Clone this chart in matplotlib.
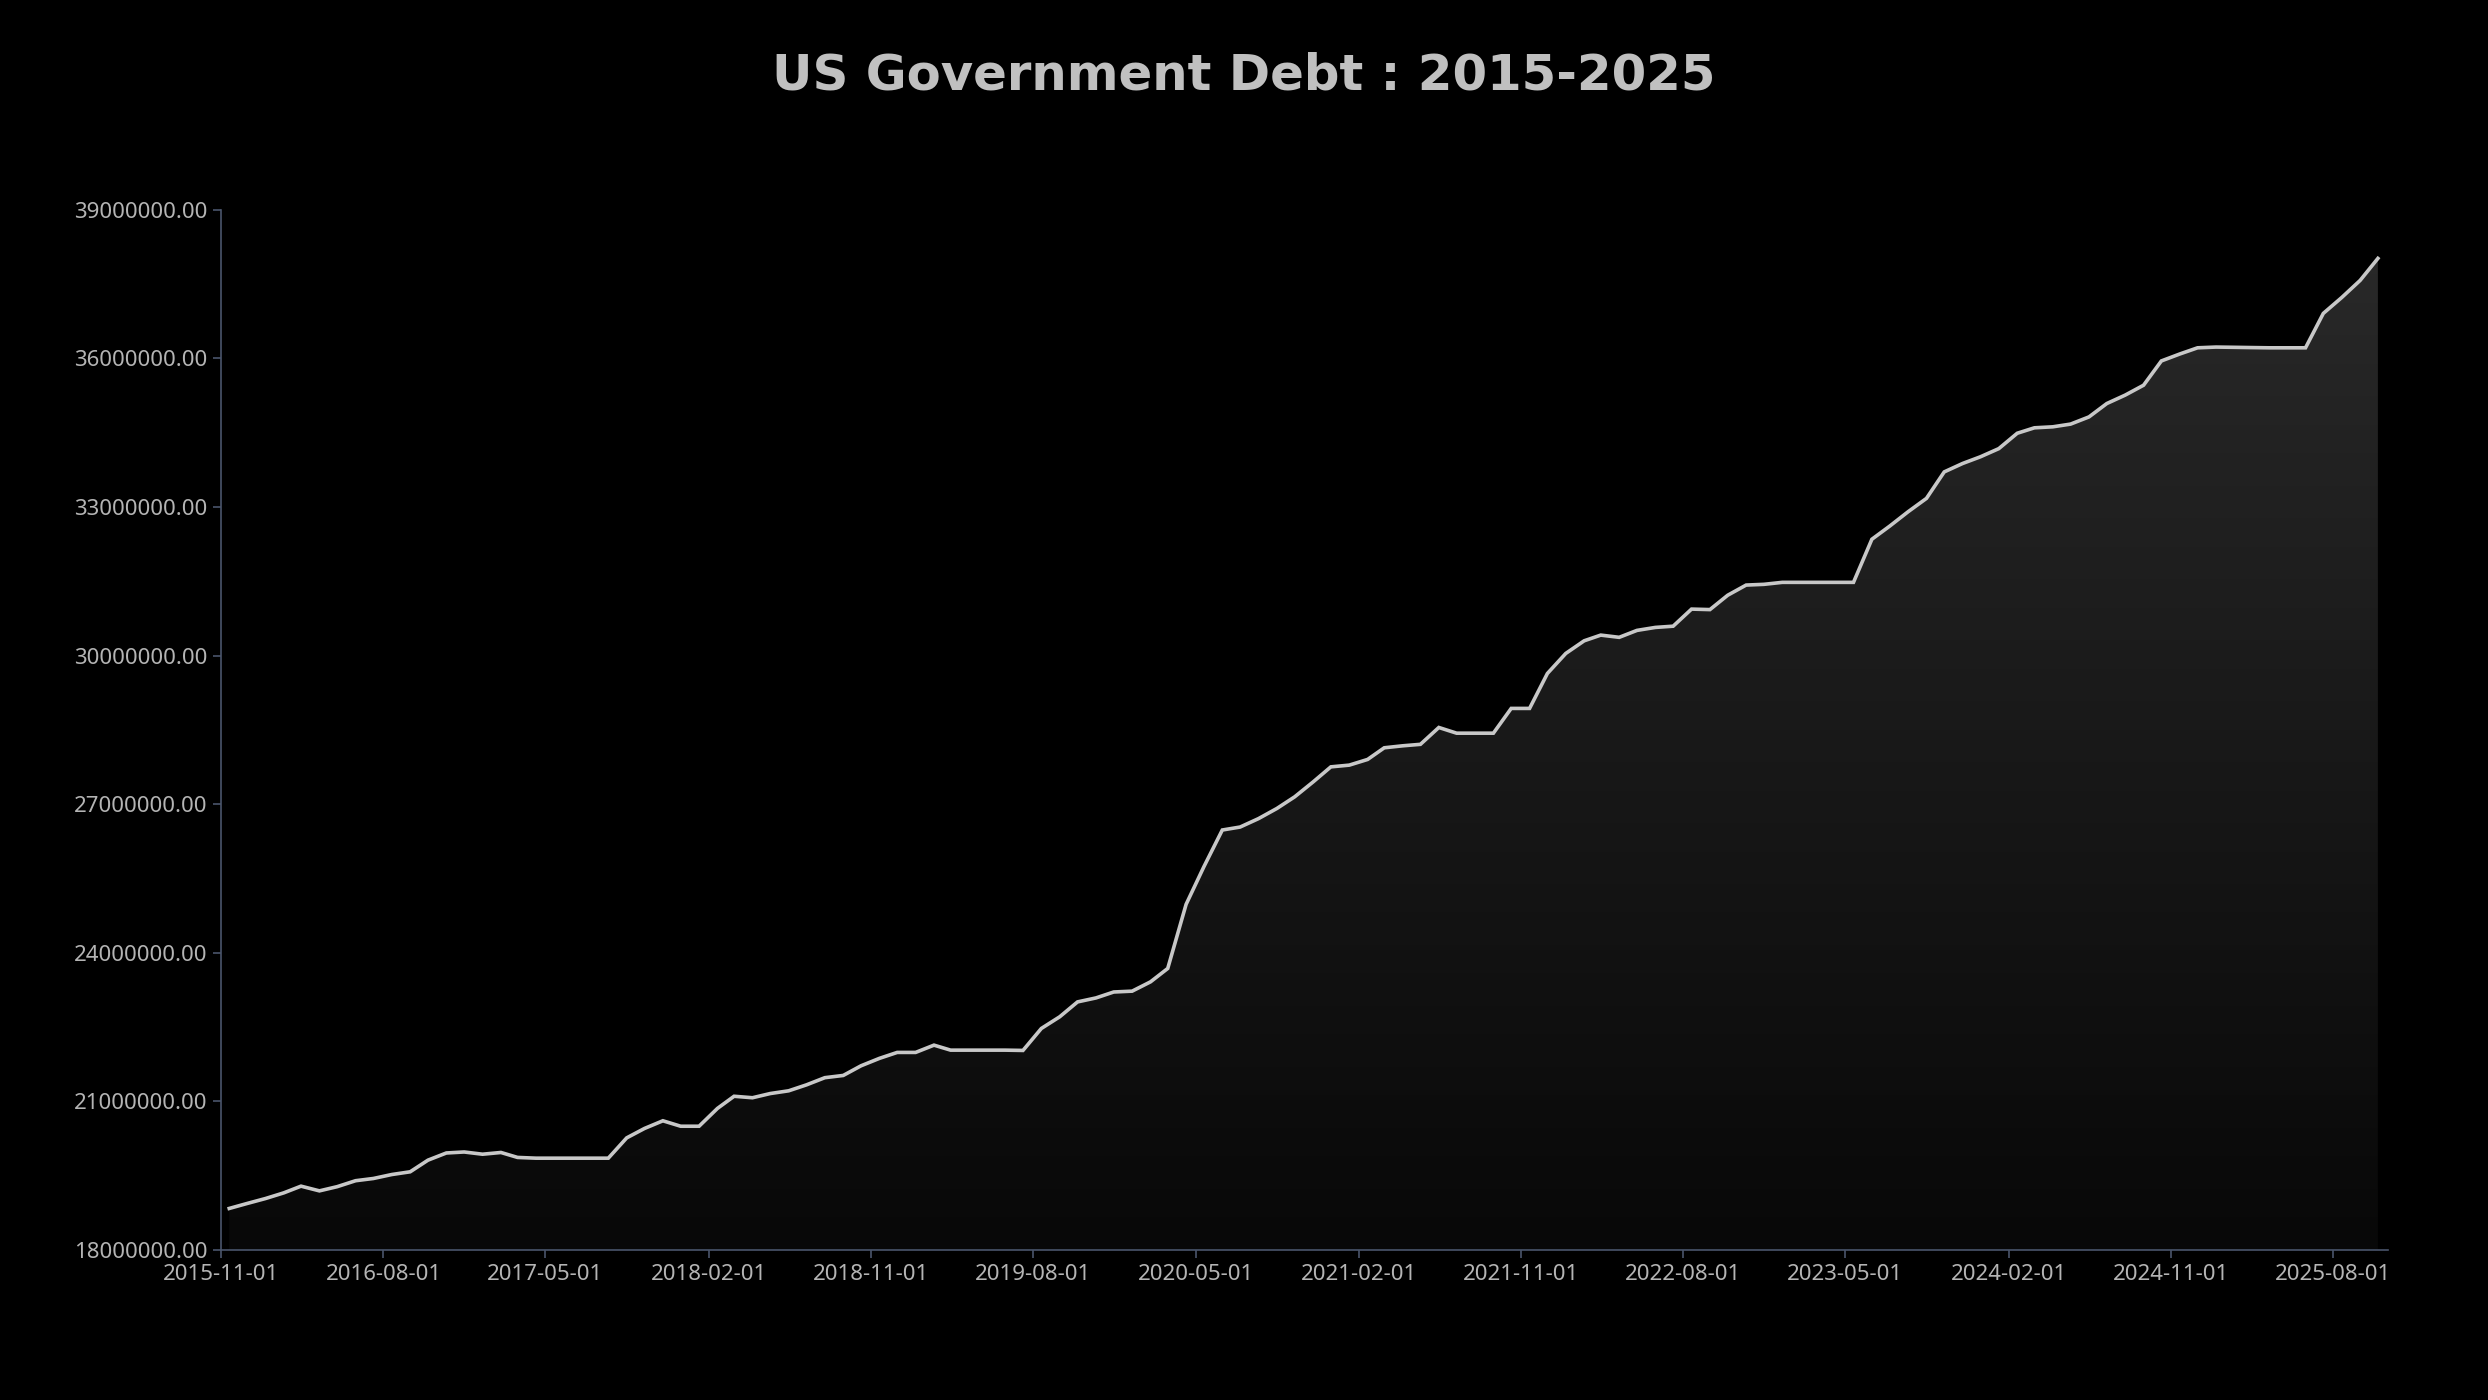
import numpy as np
import pandas as pd
import matplotlib
matplotlib.use("Agg")
import matplotlib.pyplot as plt
import matplotlib.dates as mdates
from matplotlib.colors import LinearSegmentedColormap
from matplotlib.ticker import FuncFormatter

# -------------------------------------
# data: total public debt, millions USD (mid-month readings)
# -------------------------------------
START_MONTH = "2015-11-01"
END_MONTH = "2025-10-01"

debt_millions = [
    18.84, 18.94, 19.04, 19.155, 19.29, 19.195, 19.28, 19.40, 19.445, 19.525,
    19.58, 19.815, 19.96, 19.98, 19.935, 19.97, 19.87, 19.855, 19.855, 19.855,
    19.855, 19.855, 20.265, 20.455, 20.61, 20.50, 20.50, 20.86, 21.105, 21.075,
    21.16, 21.215, 21.335, 21.48, 21.525, 21.72, 21.87, 21.99, 21.99, 22.137,
    22.036, 22.036, 22.036, 22.036, 22.03, 22.474, 22.71, 23.01, 23.09, 23.21,
    23.227, 23.415, 23.685, 24.98, 25.74, 26.48, 26.54, 26.71, 26.915, 27.15,
    27.45, 27.755, 27.79, 27.905, 28.14, 28.18, 28.21, 28.55, 28.435, 28.435,
    28.435, 28.935, 28.935, 29.64, 30.045, 30.30, 30.415, 30.37, 30.51, 30.57,
    30.595, 30.94, 30.93, 31.22, 31.425, 31.44, 31.48, 31.48, 31.48, 31.48,
    31.48, 32.35, 32.615, 32.905, 33.175, 33.71, 33.88, 34.015, 34.18, 34.49,
    34.60, 34.62, 34.675, 34.82, 35.09, 35.26, 35.46, 35.95, 36.09, 36.215,
    36.23, 36.225, 36.22, 36.215, 36.215, 36.215, 36.91, 37.23, 37.575, 38.02,
]

tick_dates = pd.date_range("2015-11-01", "2025-08-01", freq="9MS")
y_ticks = [18, 21, 24, 27, 30, 33, 36, 39]

dates = pd.date_range(START_MONTH, END_MONTH, freq="MS") + pd.Timedelta(days=14)
debt = np.array(debt_millions) * 1_000_000

# -------------------------------------
# style
# -------------------------------------
BG = "#000000"
LINE = "#c8c8c8"
AXIS = "#4a556c"
TEXT = "#b4b4b4"
TITLE = "#c0c0c0"

plt.rcParams["font.family"] = ["Noto Sans", "DejaVu Sans"]

fig = plt.figure(figsize=(24.88, 14), dpi=100, facecolor=BG)
ax = fig.add_axes([0.0888, 0.1071, 0.8710, 0.7430], facecolor=BG)

ymin, ymax = 18_000_000, 39_000_000
xmin, xmax = pd.Timestamp("2015-11-01"), pd.Timestamp("2025-11-01")
ax.set_xlim(xmin, xmax)
ax.set_ylim(ymin, ymax)

# gradient area under the line
cmap = LinearSegmentedColormap.from_list("fill", ["#080808", "#2a2a2a"])
grad = np.linspace(0, 1, 256).reshape(-1, 1)
x0, x1 = mdates.date2num(xmin), mdates.date2num(xmax)
img = ax.imshow(grad, cmap=cmap, origin="lower", aspect="auto",
                extent=[x0, x1, ymin, ymax], zorder=1)
area = ax.fill_between(dates, debt, ymin, facecolor="none", edgecolor="none")
clip = area.get_paths()[0]
img.set_clip_path(clip, transform=ax.transData)

ax.plot(dates, debt, color=LINE, lw=2.6, zorder=3, solid_joinstyle="miter")

# axes
for side in ["top", "right"]:
    ax.spines[side].set_visible(False)
for side in ["left", "bottom"]:
    ax.spines[side].set_color(AXIS)
    ax.spines[side].set_linewidth(1.2)

ax.set_xticks(tick_dates)
ax.xaxis.set_major_formatter(mdates.DateFormatter("%Y-%m-%d"))
ax.set_yticks([v * 1_000_000 for v in y_ticks])
ax.yaxis.set_major_formatter(FuncFormatter(lambda v, p: f"{v:.2f}"))
ax.tick_params(axis="both", colors=AXIS, labelcolor=TEXT, labelsize=16,
               length=6, width=1.2)
ax.tick_params(axis="y", pad=3.5)
ax.tick_params(axis="x", pad=4)

fig.text(0.5, 1 - 90 / 1400, "US Government Debt : 2015-2025",
         ha="center", va="baseline", color=TITLE, fontsize=35.8,
         fontweight="bold", family="DejaVu Sans")

fig.savefig("out.png", dpi=100, facecolor=BG)
